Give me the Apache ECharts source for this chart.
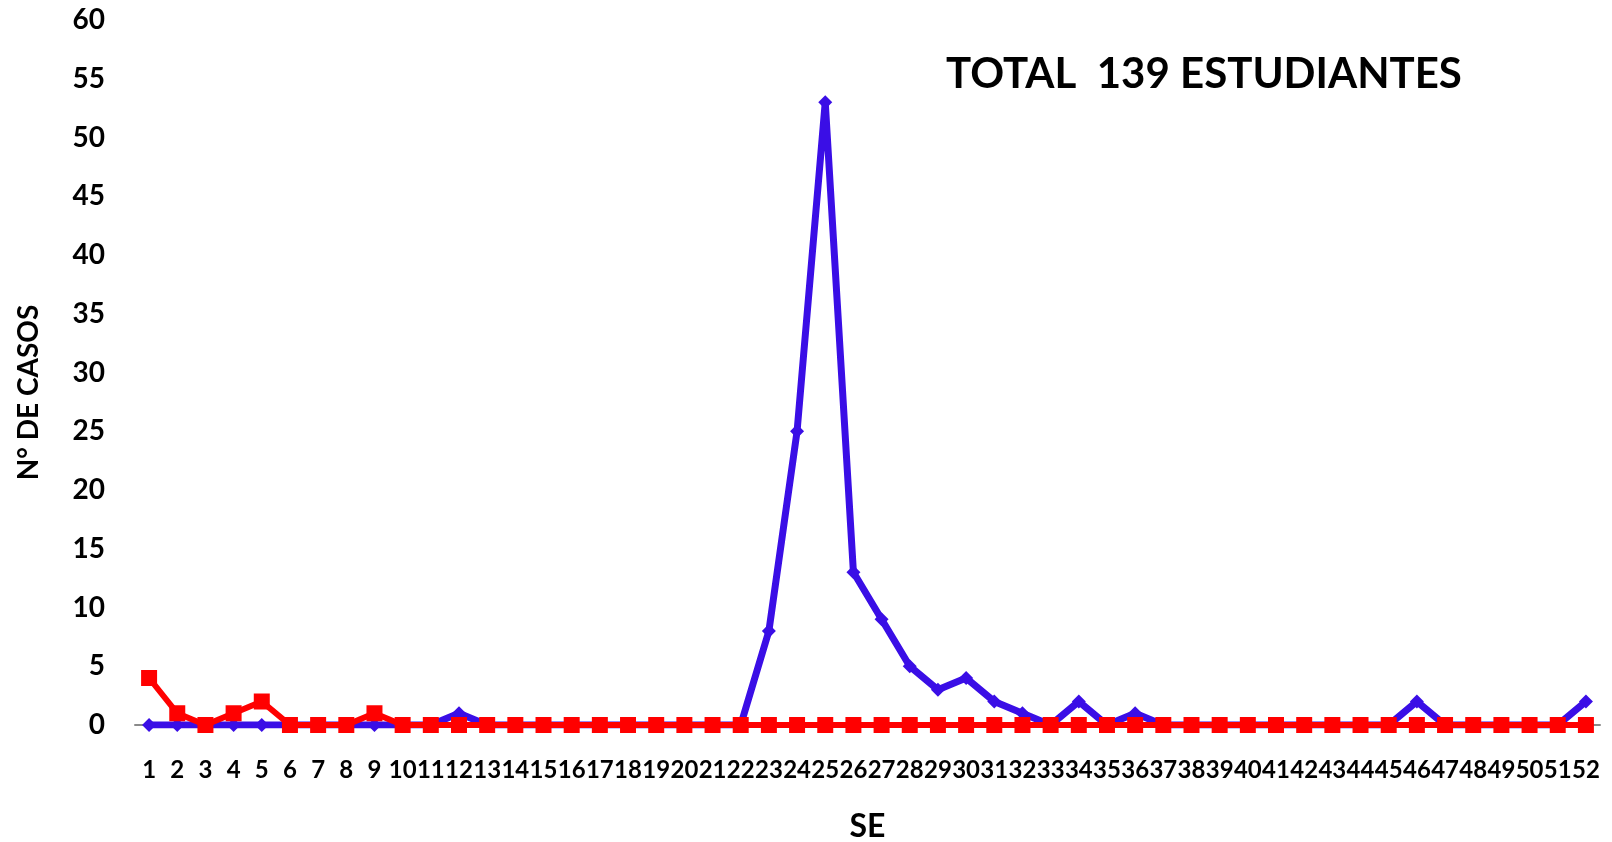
<!DOCTYPE html>
<html lang="es">
<head>
    <meta charset="UTF-8">
    <script type="text/javascript" src="https://cdn.jsdelivr.net/npm/echarts@6/dist/echarts.min.js"></script>
    <title>casos por SE</title>
    <style>
        html, body { margin: 0; padding: 0; background: #fff; }
        #chart { width: 1612px; height: 842px; }
    </style>
</head>
<body>
<div id="chart"></div>
<script type="text/javascript">
    // semanas epidemiologicas 1..52
    var semanas = ['1','2','3','4','5','6','7','8','9','10','11','12','13','14','15','16','17','18','19','20',
        '21','22','23','24','25','26','27','28','29','30','31','32','33','34','35','36','37','38','39','40',
        '41','42','43','44','45','46','47','48','49','50','51','52'];
    // serie azul (rombos)
    var casosAzul = [0,0,0,0,0,0,0,0,0,0, 0,1,0,0,0,0,0,0,0,0,
        0,0,8,25,53,13,9,5,3,4, 2,1,0,2,0,1,0,0,0,0,
        0,0,0,0,0,2,0,0,0,0, 0,2];
    // serie roja (cuadrados)
    var casosRojo = [4,1,0,1,2,0,0,0,1,0, 0,0,0,0,0,0,0,0,0,0,
        0,0,0,0,0,0,0,0,0,0, 0,0,0,0,0,0,0,0,0,0,
        0,0,0,0,0,0,0,0,0,0, 0,0];
    var yTicks = {min: 0, max: 60, step: 5};

    var font = 'Lato, "Open Sans", sans-serif';
    var chart = echarts.init(document.getElementById('chart'), null, {renderer: 'canvas'});
    chart.setOption({
        animation: false,
        backgroundColor: '#fff',
        title: {
            text: 'TOTAL  139 ESTUDIANTES',
            left: 941,
            top: 48,
            textStyle: {fontFamily: font, fontWeight: 'bold', fontSize: 42, color: '#000'}
        },
        grid: {left: 135, right: 12, top: 20, bottom: 117, outerBoundsMode: 'none'},
        xAxis: {
            type: 'category',
            data: semanas,
            boundaryGap: true,
            name: 'SE',
            nameLocation: 'middle',
            nameGap: 86,
            nameTextStyle: {fontFamily: font, fontWeight: 'bold', fontSize: 32, color: '#000'},
            axisLine: {lineStyle: {color: '#8a8a8a', width: 2}},
            axisTick: {show: false},
            axisLabel: {
                interval: 0,
                margin: 33,
                fontFamily: font,
                fontWeight: 'bold',
                fontSize: 24,
                color: '#000'
            }
        },
        yAxis: {
            type: 'value',
            min: yTicks.min,
            max: yTicks.max,
            interval: yTicks.step,
            name: 'N° DE CASOS',
            nameLocation: 'middle',
            nameGap: 92,
            nameTextStyle: {fontFamily: font, fontWeight: 'bold', fontSize: 28, color: '#000', padding: [0, 40, 0, 0]},
            axisLine: {show: false},
            axisTick: {show: false},
            splitLine: {show: false},
            axisLabel: {margin: 30, fontFamily: font, fontWeight: 'bold', fontSize: 28, color: '#000'}
        },
        series: [
            {
                name: 'Azul',
                type: 'line',
                data: casosAzul,
                symbol: 'diamond',
                symbolSize: 14,
                lineStyle: {color: '#3a0ee6', width: 7},
                itemStyle: {color: '#3a0ee6'}
            },
            {
                name: 'Rojo',
                type: 'line',
                data: casosRojo,
                symbol: 'rect',
                symbolSize: 16,
                lineStyle: {color: '#ff0000', width: 6},
                itemStyle: {color: '#ff0000'}
            }
        ]
    });
</script>
</body>
</html>
